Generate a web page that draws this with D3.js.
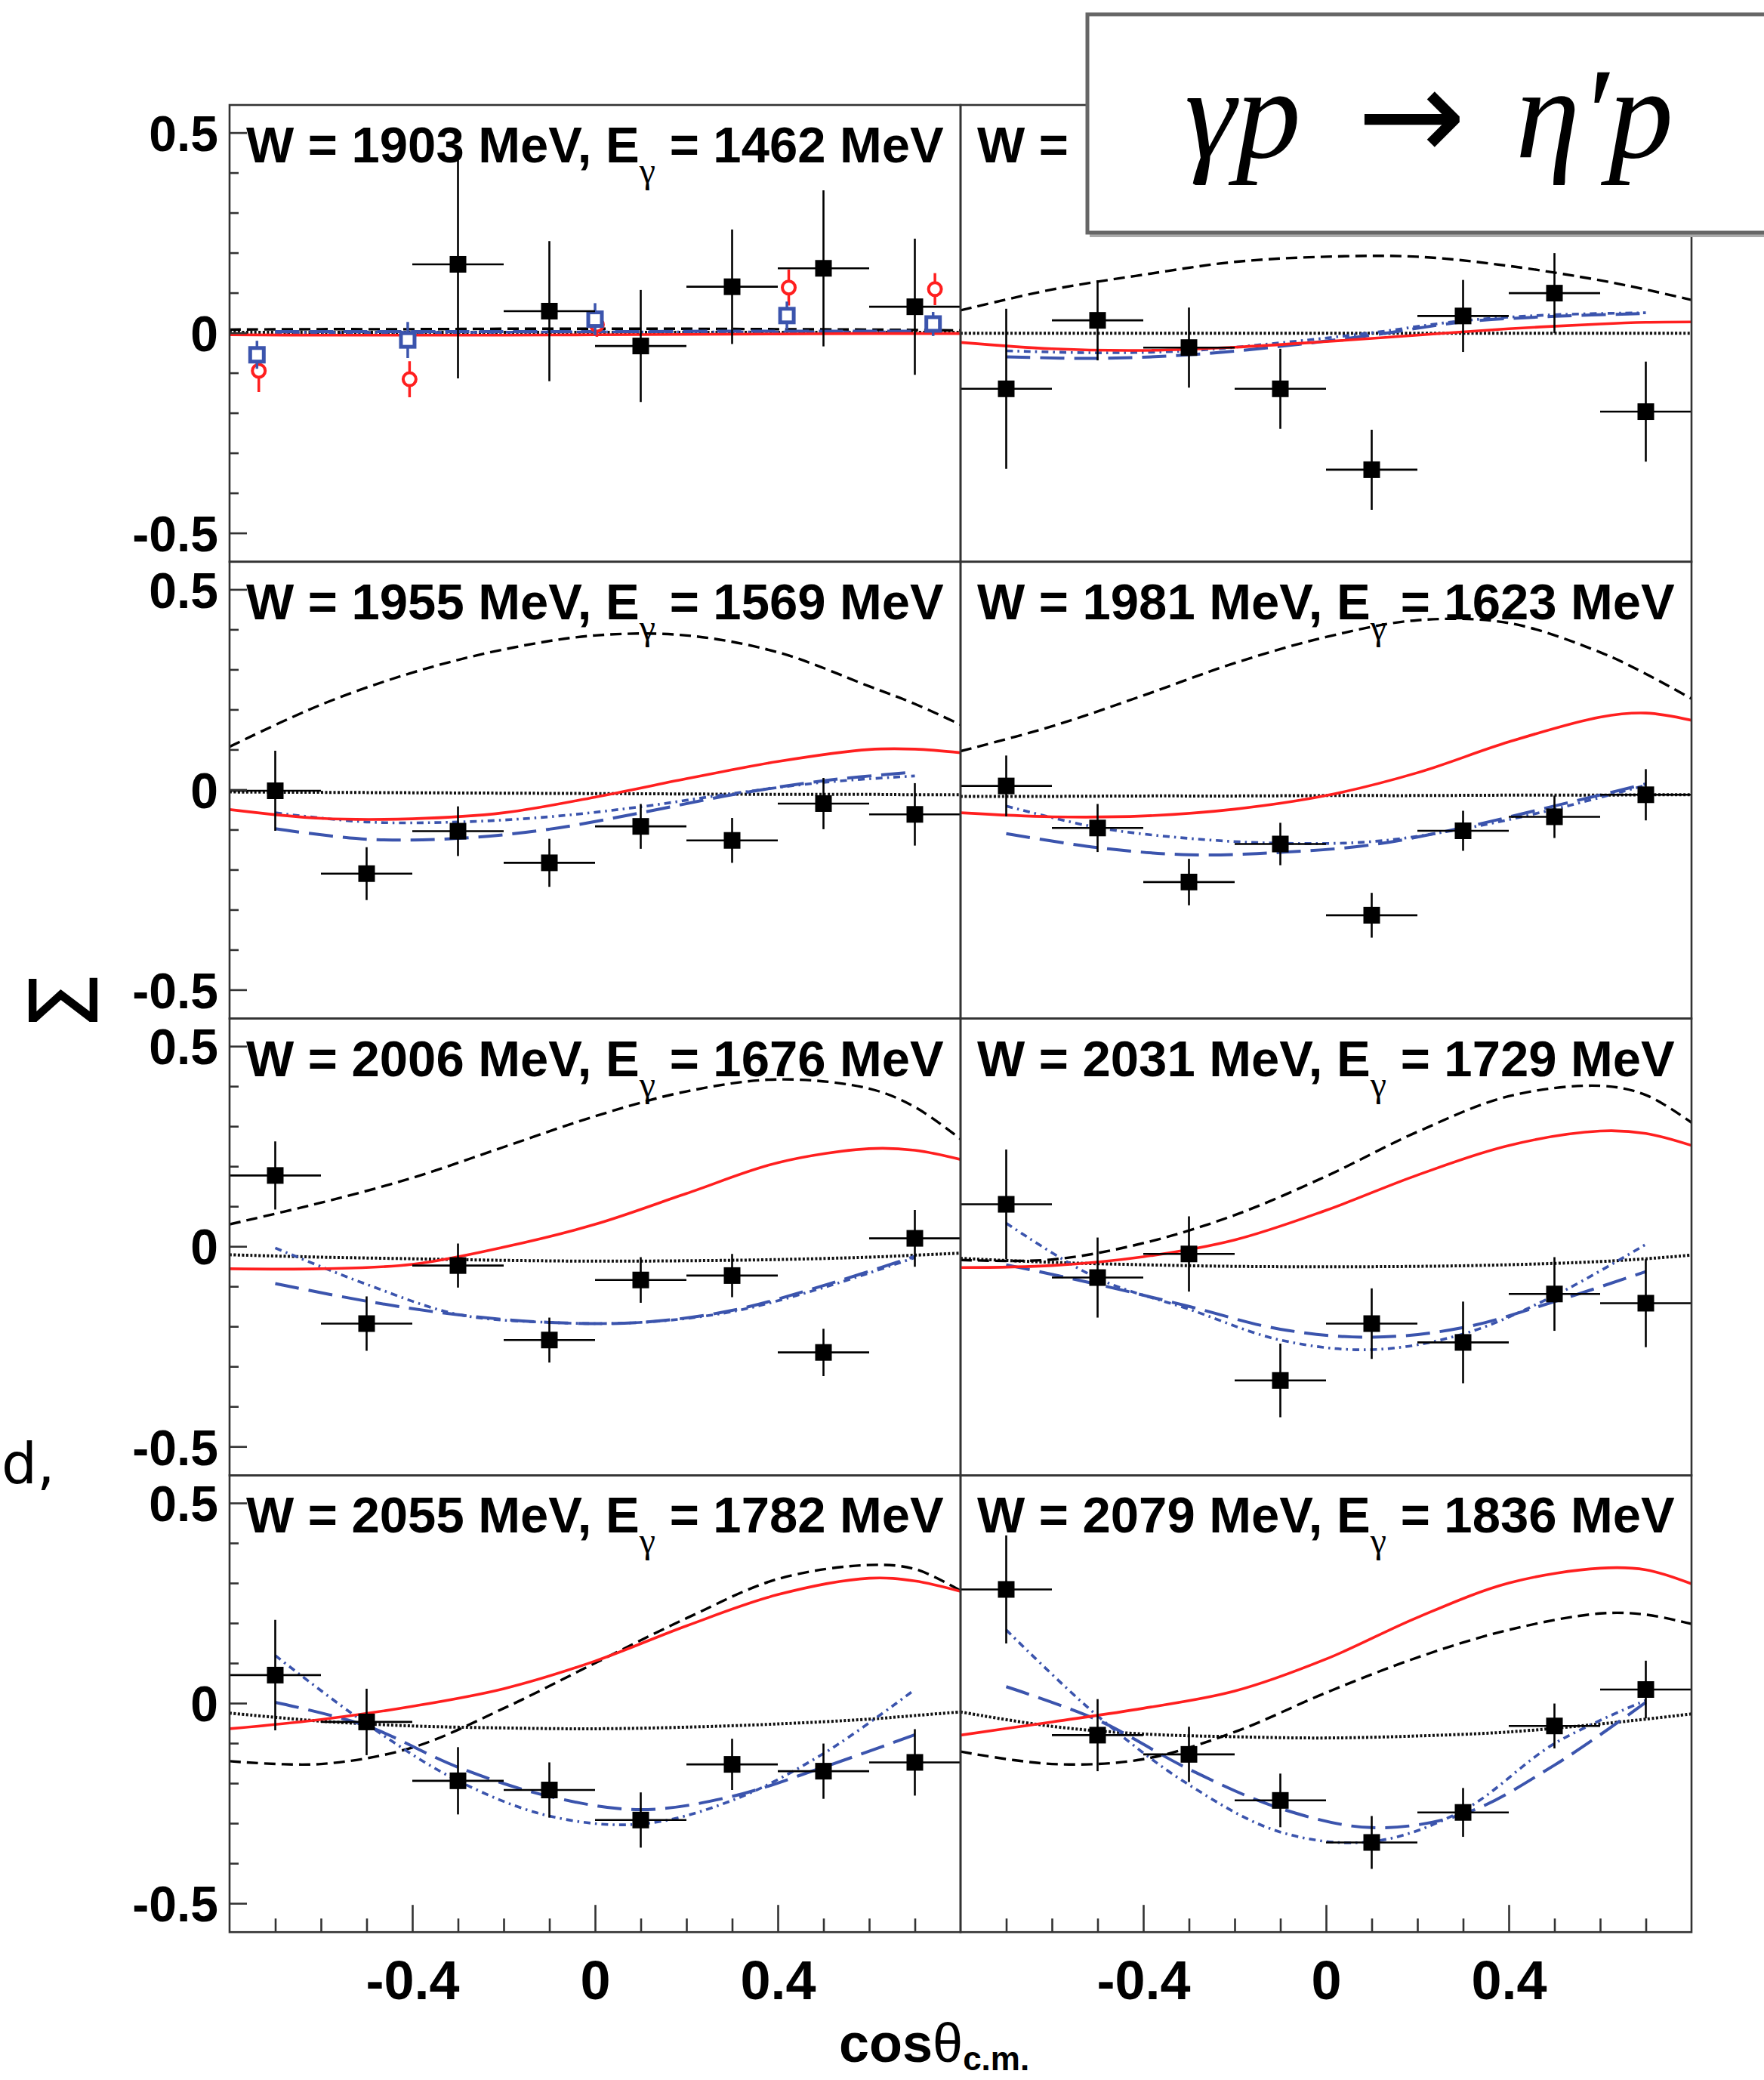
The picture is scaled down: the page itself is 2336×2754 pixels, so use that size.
<!DOCTYPE html>
<html><head><meta charset="utf-8">
<script src="https://cdn.jsdelivr.net/npm/d3@7"></script>
<style>
html,body{margin:0;padding:0;background:#fff;}
svg{display:block;}
</style></head>
<body>
<svg id="chart" width="2336" height="2754"></svg>
<script>
// ---------------- DATA ----------------
const W_MEV   = [1903, 1929, 1955, 1981, 2006, 2031, 2055, 2079];
const E_GAMMA = [1462, 1516, 1569, 1623, 1676, 1729, 1782, 1836];

// cos(theta_cm) bin centres of the data points (bin half-width 0.1)
const binX = [-0.7, -0.5, -0.3, -0.1, 0.1, 0.3, 0.5, 0.7];
const binHalfWidth = 0.1;

// Sigma measurements (this work), one row per W bin
const sigmaData = [
  [null, null, 0.171, 0.054, -0.033, 0.115, 0.161, 0.065],
  [-0.140, 0.031, -0.037, -0.140, -0.342, 0.042, 0.099, -0.197],
  [-0.003, -0.210, -0.104, -0.183, -0.092, -0.127, -0.035, -0.062],
  [0.009, -0.096, -0.231, -0.136, -0.314, -0.103, -0.068, -0.013],
  [0.177, -0.193, -0.048, -0.234, -0.084, -0.073, -0.265, 0.020],
  [0.105, -0.078, -0.019, -0.335, -0.193, -0.240, -0.119, -0.142],
  [0.070, -0.047, -0.194, -0.217, -0.292, -0.153, -0.170, -0.148],
  [0.284, -0.080, -0.128, -0.243, -0.348, -0.273, -0.057, 0.034]
];
const sigmaErr = [
  [0, 0, 0.285, 0.175, 0.140, 0.143, 0.195, 0.170],
  [0.200, 0.100, 0.100, 0.100, 0.100, 0.090, 0.100, 0.125],
  [0.100, 0.066, 0.062, 0.060, 0.056, 0.056, 0.064, 0.078],
  [0.076, 0.060, 0.058, 0.053, 0.056, 0.050, 0.053, 0.064],
  [0.085, 0.068, 0.055, 0.056, 0.057, 0.054, 0.059, 0.071],
  [0.137, 0.100, 0.094, 0.092, 0.088, 0.102, 0.092, 0.110],
  [0.138, 0.083, 0.084, 0.069, 0.069, 0.064, 0.069, 0.083],
  [0.135, 0.090, 0.069, 0.067, 0.066, 0.061, 0.056, 0.072]
];

// earlier measurements shown only in the first W bin
const prevX       = [-0.74, -0.41, 0.0, 0.42, 0.74];
const prevRedY    = [-0.095, -0.116, 0.020, 0.113, 0.109];
const prevRedErr  = [0.053, 0.045, 0.030, 0.045, 0.040];
const prevBlueY   = [-0.055, -0.018, 0.034, 0.043, 0.022];
const prevBlueErr = [0.035, 0.045, 0.040, 0.035, 0.030];

// model curves, sampled on modelX
const modelX = [-0.8, -0.6, -0.4, -0.2, 0.0, 0.2, 0.4, 0.6, 0.7, 0.8];
const modelDashBlack = [
  [0.008, 0.009, 0.009, 0.010, 0.010, 0.010, 0.009, 0.008, 0.007, 0.006],
  [0.056, 0.108, 0.145, 0.177, 0.190, 0.190, 0.167, 0.131, 0.108, 0.082],
  [0.107, 0.212, 0.292, 0.350, 0.385, 0.385, 0.343, 0.258, 0.214, 0.162],
  [0.096, 0.158, 0.235, 0.316, 0.381, 0.423, 0.416, 0.343, 0.289, 0.227],
  [0.055, 0.109, 0.171, 0.248, 0.325, 0.387, 0.417, 0.394, 0.348, 0.268],
  [-0.034, -0.033, 0.008, 0.078, 0.175, 0.286, 0.375, 0.401, 0.378, 0.309],
  [-0.145, -0.152, -0.111, -0.013, 0.100, 0.212, 0.310, 0.345, 0.335, 0.281],
  [-0.121, -0.152, -0.140, -0.072, 0.026, 0.114, 0.183, 0.224, 0.221, 0.198]
];
const modelRed = [
  [-0.005, -0.006, -0.006, -0.006, -0.005, -0.004, -0.003, -0.002, -0.002, -0.002],
  [-0.024, -0.040, -0.044, -0.036, -0.022, -0.006, 0.010, 0.022, 0.026, 0.027],
  [-0.050, -0.072, -0.073, -0.058, -0.019, 0.027, 0.070, 0.100, 0.101, 0.092],
  [-0.058, -0.068, -0.066, -0.049, -0.015, 0.042, 0.119, 0.181, 0.191, 0.173],
  [-0.056, -0.056, -0.045, -0.002, 0.055, 0.132, 0.209, 0.244, 0.240, 0.217],
  [-0.053, -0.048, -0.026, 0.016, 0.090, 0.178, 0.252, 0.288, 0.282, 0.252],
  [-0.064, -0.041, -0.008, 0.036, 0.105, 0.193, 0.271, 0.312, 0.305, 0.279],
  [-0.080, -0.047, -0.013, 0.030, 0.110, 0.214, 0.300, 0.337, 0.333, 0.298]
];
const modelDotBlack = [
  [0.001, 0.001, 0.001, 0.001, 0.001, 0.001, 0.001, 0.001, 0.001, 0.001],
  [-0.001, -0.001, -0.001, -0.001, -0.001, -0.001, -0.001, -0.001, -0.001, -0.001],
  [-0.006, -0.007, -0.008, -0.009, -0.010, -0.011, -0.012, -0.012, -0.013, -0.013],
  [-0.017, -0.017, -0.016, -0.016, -0.015, -0.015, -0.014, -0.014, -0.013, -0.013],
  [-0.021, -0.027, -0.031, -0.035, -0.037, -0.036, -0.033, -0.027, -0.022, -0.017],
  [-0.030, -0.040, -0.046, -0.050, -0.051, -0.050, -0.046, -0.038, -0.031, -0.022],
  [-0.025, -0.045, -0.057, -0.062, -0.064, -0.060, -0.052, -0.040, -0.031, -0.022],
  [-0.022, -0.058, -0.077, -0.084, -0.087, -0.082, -0.072, -0.052, -0.040, -0.027]
];
// blue model curves, sampled on binX
const modelBlueDash = [
  [0.003, 0.003, 0.003, 0.003, 0.003, 0.004, 0.004, 0.004],
  [-0.060, -0.064, -0.055, -0.034, -0.006, 0.027, 0.041, 0.048],
  [-0.098, -0.124, -0.122, -0.099, -0.058, -0.013, 0.022, 0.044],
  [-0.110, -0.145, -0.163, -0.157, -0.138, -0.095, -0.041, 0.014],
  [-0.093, -0.137, -0.171, -0.190, -0.190, -0.160, -0.098, -0.025],
  [-0.046, -0.095, -0.150, -0.207, -0.227, -0.203, -0.138, -0.063],
  [0.002, -0.057, -0.160, -0.233, -0.266, -0.233, -0.160, -0.079],
  [0.041, -0.042, -0.165, -0.263, -0.311, -0.277, -0.155, 0.002]
];
const modelBlueDot = [
  [0.001, 0.001, 0.001, 0.002, 0.002, 0.002, 0.002, 0.002],
  [-0.045, -0.050, -0.045, -0.025, 0.000, 0.030, 0.045, 0.050],
  [-0.058, -0.081, -0.081, -0.068, -0.043, -0.010, 0.018, 0.034],
  [-0.041, -0.095, -0.122, -0.134, -0.130, -0.098, -0.049, 0.011],
  [-0.004, -0.095, -0.170, -0.190, -0.190, -0.163, -0.103, -0.028],
  [0.058, -0.080, -0.157, -0.234, -0.258, -0.219, -0.123, 0.005],
  [0.119, -0.052, -0.194, -0.282, -0.302, -0.243, -0.126, 0.034],
  [0.183, -0.032, -0.204, -0.322, -0.346, -0.268, -0.101, 0.007]
];

// axis ticks and labels
const xMajorTicks = [-0.4, 0, 0.4];
const xMinorTicks = [-0.7, -0.6, -0.5, -0.3, -0.2, -0.1, 0.1, 0.2, 0.3, 0.5, 0.6, 0.7];
const yMajorTicks = [-0.5, 0, 0.5];
const yMinorTicks = [-0.4, -0.3, -0.2, -0.1, 0.1, 0.2, 0.3, 0.4];
const xDomain = [-0.8, 0.8];
const yDomain = [-0.572, 0.569];

// ---------------- LAYOUT ----------------
const svg = d3.select("#chart");
const colLeft = [304, 1272];
const colWidth = 968;
const rowTop0 = 139;
const rowPitch = 604.8;
const nRows = 4;

const RED = "#ff1f1f";
const BLUE = "#3b54ad";
const FRAME = "#333";
const SANS = "'Liberation Sans', Arial, Helvetica, sans-serif";
const SERIF = "'Liberation Serif', 'Times New Roman', serif";

svg.append("rect").attr("width", 2336).attr("height", 2754).attr("fill", "#fff");
const defs = svg.append("defs");

// ROOT-style labels: plain hyphen for negatives
function fmtTick(v) {
  if (Math.abs(v) < 1e-9) return "0";
  return (v < 0 ? "-" : "") + Math.abs(v).toFixed(1);
}

for (let p = 0; p < 8; p++) {
  const col = p % 2, row = Math.floor(p / 2);
  const x0 = colLeft[col], y0 = rowTop0 + row * rowPitch;
  const x = d3.scaleLinear().domain(xDomain).range([x0, x0 + colWidth]);
  const y = d3.scaleLinear().domain(yDomain).range([y0 + rowPitch, y0]);

  const clipId = "clip" + p;
  defs.append("clipPath").attr("id", clipId)
    .append("rect").attr("x", x0).attr("y", y0).attr("width", colWidth).attr("height", rowPitch);

  const g = svg.append("g");
  const plot = g.append("g").attr("clip-path", `url(#${clipId})`);

  const mline = d3.line().x((d, i) => x(modelX[i])).y(d => y(d)).curve(d3.curveCatmullRom.alpha(0.5));
  const bline = d3.line().x((d, i) => x(binX[i])).y(d => y(d)).curve(d3.curveCatmullRom.alpha(0.5));

  plot.append("path").attr("d", mline(modelDotBlack[p]))
    .attr("fill", "none").attr("stroke", "#111").attr("stroke-width", 4).attr("stroke-dasharray", "3,2.5");
  plot.append("path").attr("d", mline(modelDashBlack[p]))
    .attr("fill", "none").attr("stroke", "#000").attr("stroke-width", 3.4).attr("stroke-dasharray", "15,8");
  plot.append("path").attr("d", bline(modelBlueDot[p]))
    .attr("fill", "none").attr("stroke", BLUE).attr("stroke-width", 3.6).attr("stroke-dasharray", "9,6,2.5,6");
  plot.append("path").attr("d", bline(modelBlueDash[p]))
    .attr("fill", "none").attr("stroke", BLUE).attr("stroke-width", 4).attr("stroke-dasharray", "32,13");
  plot.append("path").attr("d", mline(modelRed[p]))
    .attr("fill", "none").attr("stroke", RED).attr("stroke-width", 3.6);

  if (p === 0) {
    prevX.forEach((xv, i) => {
      plot.append("line").attr("x1", x(xv + 0.004)).attr("x2", x(xv + 0.004))
        .attr("y1", y(prevRedY[i] - prevRedErr[i])).attr("y2", y(prevRedY[i] + prevRedErr[i]))
        .attr("stroke", RED).attr("stroke-width", 3.5);
      plot.append("circle").attr("cx", x(xv + 0.004)).attr("cy", y(prevRedY[i])).attr("r", 8.5)
        .attr("fill", "#fff").attr("stroke", RED).attr("stroke-width", 4);
    });
    prevX.forEach((xv, i) => {
      plot.append("line").attr("x1", x(xv)).attr("x2", x(xv))
        .attr("y1", y(prevBlueY[i] - prevBlueErr[i])).attr("y2", y(prevBlueY[i] + prevBlueErr[i]))
        .attr("stroke", BLUE).attr("stroke-width", 3.5);
      plot.append("rect").attr("x", x(xv) - 9).attr("y", y(prevBlueY[i]) - 9).attr("width", 18).attr("height", 18)
        .attr("fill", "#fff").attr("stroke", BLUE).attr("stroke-width", 5);
    });
  }

  binX.forEach((xv, i) => {
    const v = sigmaData[p][i];
    if (v === null) return;
    const e = sigmaErr[p][i];
    plot.append("line").attr("x1", x(xv - binHalfWidth)).attr("x2", x(xv + binHalfWidth))
      .attr("y1", y(v)).attr("y2", y(v)).attr("stroke", "#000").attr("stroke-width", 2.6);
    plot.append("line").attr("x1", x(xv)).attr("x2", x(xv))
      .attr("y1", y(v - e)).attr("y2", y(v + e)).attr("stroke", "#000").attr("stroke-width", 2.6);
    plot.append("rect").attr("x", x(xv) - 11).attr("y", y(v) - 11).attr("width", 22).attr("height", 22)
      .attr("fill", "#000");
  });

  g.append("rect").attr("x", x0).attr("y", y0).attr("width", colWidth).attr("height", rowPitch)
    .attr("fill", "none").attr("stroke", FRAME).attr("stroke-width", 2.6);

  if (col === 0) {
    const yMaj = d3.axisLeft(y).tickValues(yMajorTicks).tickSize(-23).tickSizeOuter(0).tickPadding(15).tickFormat(fmtTick);
    const ga = g.append("g").attr("transform", `translate(${x0},0)`).call(yMaj);
    ga.select(".domain").remove();
    ga.selectAll("line").attr("stroke", FRAME).attr("stroke-width", 2.6);
    ga.selectAll("text").attr("font-family", SANS)
      .attr("font-weight", "bold").attr("font-size", 66).attr("fill", "#000").attr("dy", "0.36em");
    const yMin = d3.axisLeft(y).tickValues(yMinorTicks).tickSize(-12).tickSizeOuter(0).tickFormat("");
    const gm = g.append("g").attr("transform", `translate(${x0},0)`).call(yMin);
    gm.select(".domain").remove();
    gm.selectAll("line").attr("stroke", FRAME).attr("stroke-width", 2.6);
  }
  if (row === nRows - 1) {
    const by = y0 + rowPitch;
    const xMaj = d3.axisBottom(x).tickValues(xMajorTicks).tickSize(-36).tickSizeOuter(0).tickPadding(38).tickFormat(fmtTick);
    const gx = g.append("g").attr("transform", `translate(0,${by})`).call(xMaj);
    gx.select(".domain").remove();
    gx.selectAll("line").attr("stroke", FRAME).attr("stroke-width", 2.6);
    gx.selectAll("text").attr("font-family", SANS)
      .attr("font-weight", "bold").attr("font-size", 72).attr("fill", "#000");
    const xMin = d3.axisBottom(x).tickValues(xMinorTicks).tickSize(-18).tickSizeOuter(0).tickFormat("");
    const gxm = g.append("g").attr("transform", `translate(0,${by})`).call(xMin);
    gxm.select(".domain").remove();
    gxm.selectAll("line").attr("stroke", FRAME).attr("stroke-width", 2.6);
  }

  // panel title; in the top-right panel only "W =" shows, the rest lies under the reaction box
  const t = g.append("text").attr("x", x0 + 22).attr("y", y0 + 76)
    .attr("font-family", SANS).attr("font-weight", "bold")
    .attr("font-size", 67).attr("fill", "#000");
  if (p === 1) {
    t.text("W =");
  } else {
    t.append("tspan").text(`W = ${W_MEV[p]} MeV, E`);
    t.append("tspan").attr("dy", 27).attr("font-size", 48).attr("font-weight", "normal")
      .attr("font-family", SERIF).text("γ");
    t.append("tspan").attr("dy", -27).text(` = ${E_GAMMA[p]} MeV`);
  }
}

// y-axis title (rotated Sigma)
svg.append("text").attr("transform", "translate(86,1326) rotate(-90)")
  .attr("text-anchor", "middle").attr("dominant-baseline", "central")
  .attr("font-family", "'DejaVu Sans', sans-serif").attr("font-size", 124).attr("fill", "#000")
  .text("Σ");

// x-axis title
const xt = svg.append("text").attr("x", 1111).attr("y", 2730)
  .attr("font-family", SANS).attr("font-weight", "bold")
  .attr("font-size", 72).attr("fill", "#000");
xt.append("tspan").text("cos");
xt.append("tspan").attr("font-weight", "normal").text("θ");
xt.append("tspan").attr("font-size", 44).attr("dy", 11).text("c.m.");

// stray slide text on the left edge
svg.append("text").attr("x", 2).attr("y", 1964)
  .attr("font-family", "'DejaVu Sans', sans-serif").attr("font-size", 74).attr("fill", "#000")
  .text("d,");

// reaction box
svg.append("rect").attr("x", 1443).attr("y", 23).attr("width", 920).attr("height", 291)
  .attr("fill", "#aaa");
svg.append("rect").attr("x", 1440).attr("y", 19).attr("width", 920).attr("height", 289)
  .attr("fill", "#fff").attr("stroke", "#666").attr("stroke-width", 5);
svg.append("text").attr("x", 1569).attr("y", 208)
  .attr("font-family", SERIF).attr("font-style", "italic").attr("font-size", 172).attr("fill", "#000")
  .text("γp");
svg.append("text").attr("x", 1797).attr("y", 212)
  .attr("font-family", "'DejaVu Sans', sans-serif").attr("font-size", 172).attr("fill", "#000")
  .text("→");
svg.append("text").attr("x", 2007).attr("y", 208)
  .attr("font-family", SERIF).attr("font-style", "italic").attr("font-size", 172).attr("fill", "#000")
  .text("η′p");
</script>
</body></html>
